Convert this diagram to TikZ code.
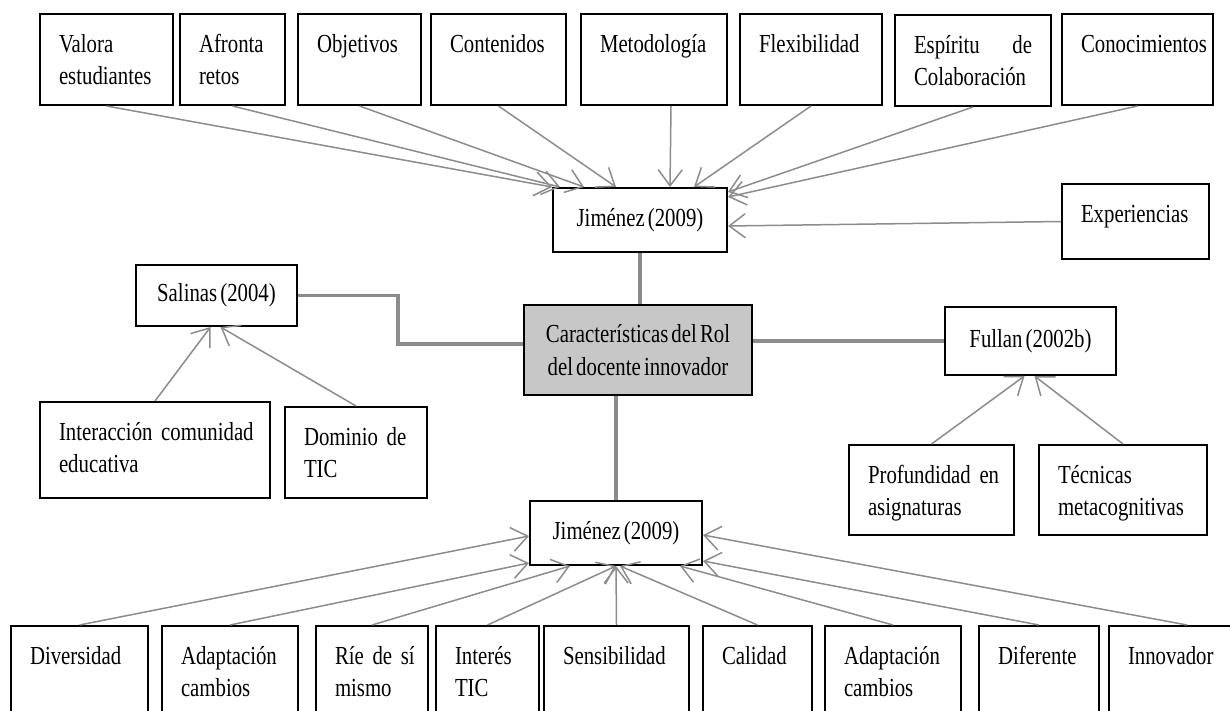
\documentclass[tikz,border=0pt]{standalone}
\usepackage{fontspec}
\setmainfont{Liberation Serif}[FakeStretch=0.8,WordSpace=0.6]
\usepackage{tikz}
\usetikzlibrary{arrows.meta}
\hfuzz=20pt
\newcommand\cellfont{\fontsize{13}{16.25}\selectfont}
\tikzstyle{box}=[draw,line width=1pt,anchor=north west,align=left,inner xsep=9.5pt,inner ysep=10.5pt,text height=8.6pt,font=\cellfont]
\tikzstyle{toprow}=[box,text depth=15.9pt]
\tikzstyle{botrow}=[box,text depth=20.4pt]
\tikzstyle{ref}=[draw,line width=1pt,align=center,inner sep=0pt,font=\cellfont]
\tikzstyle{main}=[ref,fill=black!22]
\tikzstyle{link}=[line width=1.75pt,black!45]
\tikzstyle{relhead}=[>/.tip={Straight Barb[length=8pt,width=12pt]}]
\tikzstyle{rel}=[line width=.75pt,black!45,relhead,->]

\begin{document}
\begin{tikzpicture}[x=.5pt,y=-.5pt]
	\useasboundingbox (0,0) rectangle (1230,711);
	\clip (0,0) rectangle (1230,711);
	\node[toprow,text width=47.5pt] (val)   at (39,13)   {Valora\\estudiantes};
	\node[toprow,text width=33.5pt] (afr)   at (179,13)  {Afronta\\retos};
	\node[toprow,text width=42.5pt] (obj)   at (297,13)  {Objetivos};
	\node[toprow,text width=48.5pt] (cont)  at (430,13)  {Contenidos};
	\node[toprow,text width=54pt]   (met)   at (580,13)  {Metodología};
	\node[toprow,text width=52pt]   (flex)  at (739,13)  {Flexibilidad};
	\node[toprow,text width=59pt]   (esp)   at (894,14)  {Espíritu\hfill de\\Colaboración};
	\node[toprow,text width=56.5pt] (conoc) at (1061,13) {Conocimientos};
	\node[box,text width=54.5pt,text depth=7.9pt] (exper) at (1061,183) {Experiencias};
	\node[ref,minimum width=87pt,minimum height=32pt]   (jim1) at (640,220)     {Jiménez (2009)};
	\node[ref,minimum width=80.5pt,minimum height=30.5pt] (sal) at (216.5,295.5) {Salinas (2004)};
	\node[main,minimum width=114pt,minimum height=45pt] (rol)  at (638,350)     {Características del Rol\\del docente innovador};
	\node[ref,minimum width=85.5pt,minimum height=34pt] (full) at (1030.5,341)  {Fullan (2002b)};
	\node[ref,minimum width=86pt,minimum height=32pt]   (jim2) at (616,533)     {Jiménez (2009)};
	\node[box,text width=96pt,text depth=18.4pt] (inter) at (39,401)  {\mbox{Interacción comunidad}\\educativa};
	\node[box,text width=52pt,text depth=15.9pt] (dom)   at (284,406) {\mbox{Dominio de}\\TIC};
	\node[box,text width=63.5pt,text depth=15.4pt] (prof) at (848,444)  {\mbox{Profundidad en}\\asignaturas};
	\node[box,text width=65pt,text depth=15.4pt]   (tec)  at (1038,444) {Técnicas\\metacognitivas};
	\node[botrow,text width=49.5pt] (div)   at (10,625)   {Diversidad};
	\node[botrow,text width=49pt]   (adap1) at (161,625)  {Adaptación\\cambios};
	\node[botrow,text width=37pt]   (rie)   at (315,625)  {\mbox{Ríe de sí}\\mismo};
	\node[botrow,text width=32.5pt] (int)   at (435,625)  {Interés\\TIC};
	\node[botrow,text width=53.5pt] (sens)  at (543,625)  {Sensibilidad};
	\node[botrow,text width=35.5pt] (cal)   at (702,625)  {Calidad};
	\node[botrow,text width=49pt]   (adap2) at (824,625)  {Adaptación\\cambios};
	\node[botrow,text width=41pt]   (dif)   at (978,625)  {Diferente};
	\node[botrow,text width=59pt]   (inn)   at (1108,625) {Innovador};
	\coordinate (bend) at (398,344);
	\draw[link] (sal.east) -| (bend) -- (bend -| rol.west);
	\draw[link] (rol.east |- full.west) -- (full.west);
	\draw[link] (jim1.south) -- (jim1.south |- rol.north);
	\draw[link] (jim2.north |- rol.south) -- (jim2.north);
	\draw[rel] (val.south)  -- (jim1.north west);
	\draw[rel] (afr.south)  -- ([xshift=4pt]jim1.north west);
	\draw[rel] (obj.south)  -- ([xshift=16pt]jim1.north west);
	\draw[rel] (cont.south) -- ([xshift=32pt]jim1.north west);
	\draw[rel] ([xshift=8.5pt]met.south) -- ([xshift=15pt]jim1.north);
	\draw[rel] (flex.south) -- ([xshift=27pt]jim1.north);
	\draw[rel] (esp.south)  -- ([yshift=-2.5pt]jim1.north east);
	\draw[rel] (conoc.south) -- ([yshift=-5pt]jim1.north east);
	\draw[rel] (exper.west) -- ([yshift=-3pt]jim1.east);
	\draw[rel] (inter.north) -- ([xshift=-3pt]sal.south);
	\draw[rel] (dom.north)   -- ([xshift=2pt]sal.south);
	\draw[rel] (prof.north)  -- ([xshift=-3pt]full.south);
	\draw[rel] (tec.north)   -- ([xshift=2pt]full.south);
	\draw[rel] (div.north)   -- ([yshift=-1.5pt]jim2.west);
	\draw[rel] (adap1.north) -- ([yshift=1.5pt]jim2.south west);
	\draw[rel] (rie.north)   -- ([xshift=20.5pt]jim2.south west);
	\draw[rel] (int.north)   -- (jim2.south);
	\draw[rel] (sens.north)  -- (jim2.south);
	\draw[rel] (cal.north)   -- ([xshift=2pt]jim2.south);
	\draw[rel] (adap2.north) -- ([xshift=32pt]jim2.south);
	\draw[rel] (dif.north)   -- ([yshift=2.5pt]jim2.south east);
	\draw[rel] (inn.north)   -- ([yshift=-1pt]jim2.east);
\end{tikzpicture}
\end{document}
